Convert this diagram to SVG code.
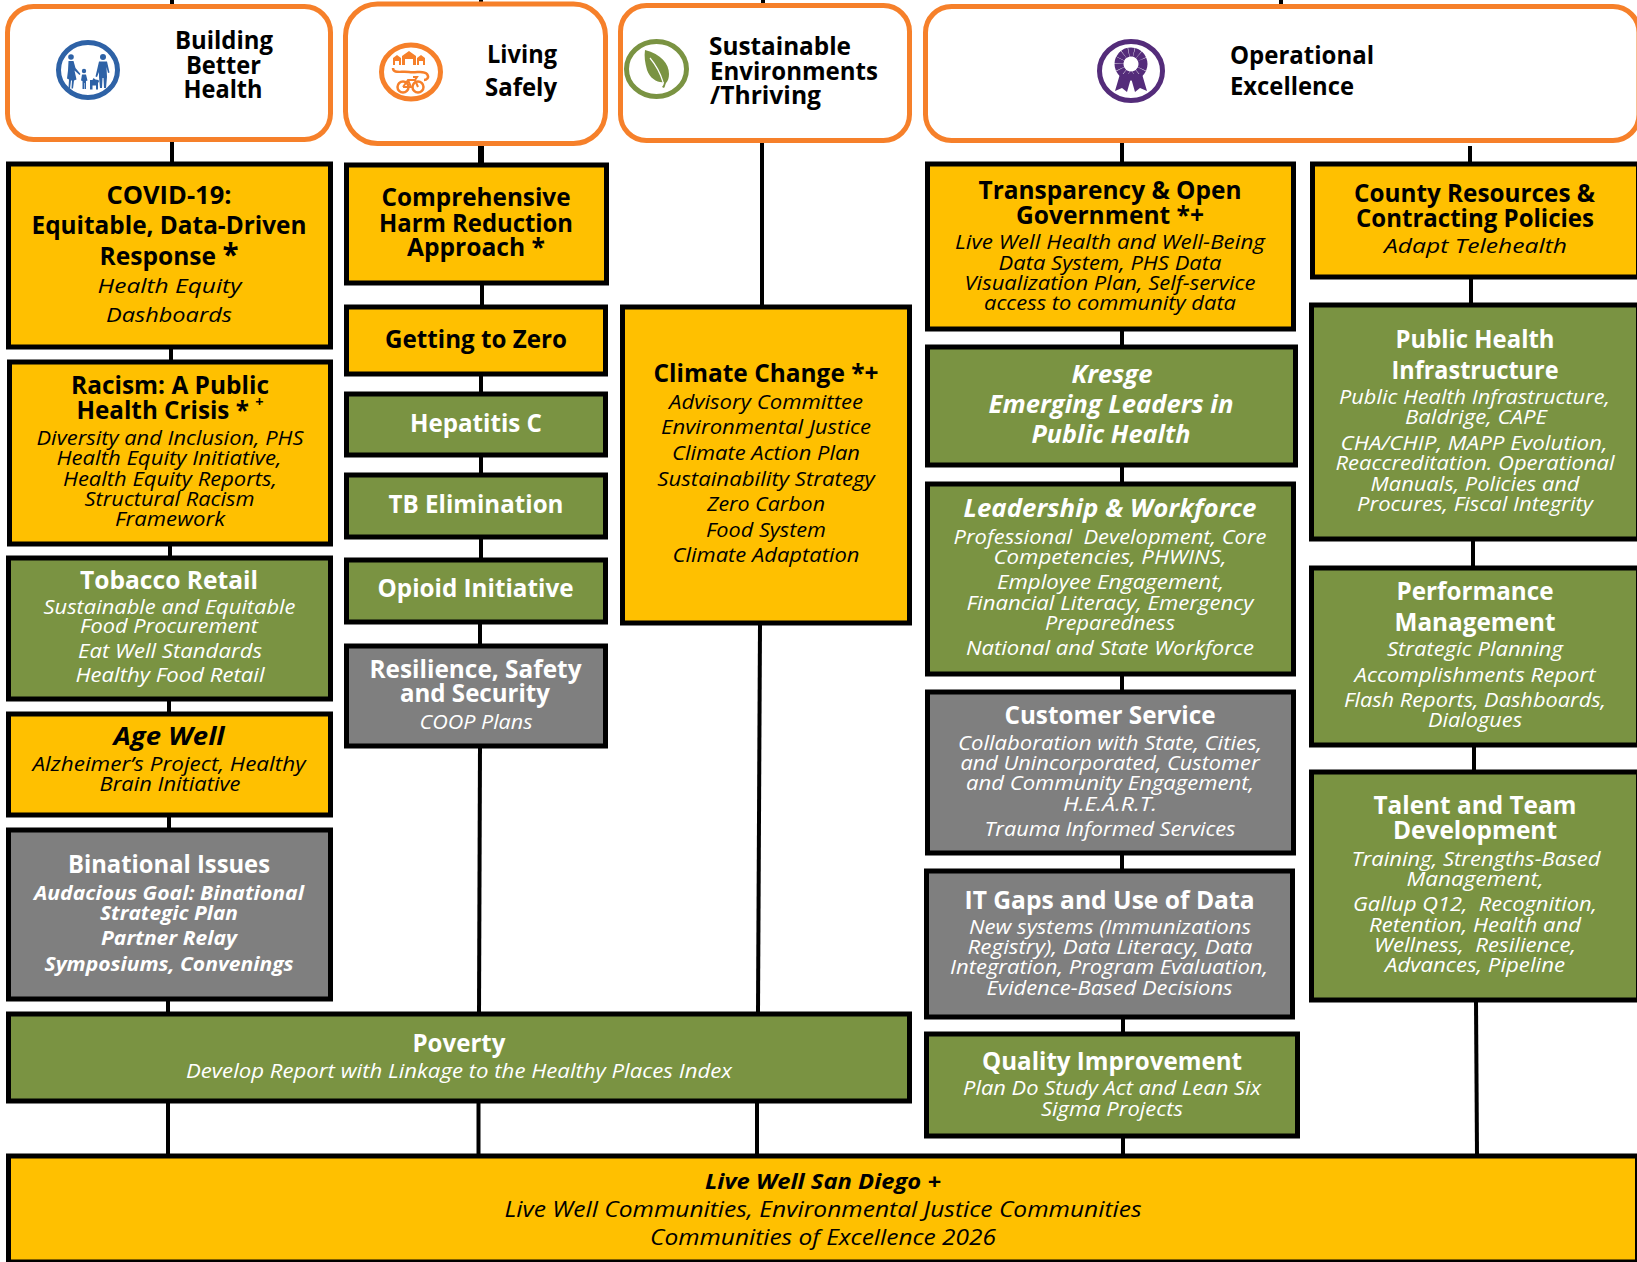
<svg xmlns="http://www.w3.org/2000/svg" width="1637" height="1262" viewBox="0 0 1637 1262">
<style>
text{font-family:"Open Sans","Noto Sans","Liberation Sans",sans-serif;text-anchor:middle;fill:#000}
.l{text-anchor:start}
.h{font-size:25px;font-weight:700}
.t{font-size:25px;font-weight:700;transform:translateY(1px)}
.s{font-size:20px;font-style:italic}
.b{font-size:20px;font-style:italic;font-weight:700}
.ti{font-size:25px;font-style:italic;font-weight:700;transform:translateY(1px)}
.w text{fill:#fff}
.n{stroke:#000;stroke-width:5;transform:translateY(.5px)}
.am{fill:#FFC000}
.gr{fill:#7A9342}
.gy{fill:#7F7F7F}
.hd{fill:#fff;stroke:#F6802A;stroke-width:5}
.c line{stroke:#000;stroke-width:4}
.pre{white-space:pre}
</style>
<rect width="1637" height="1262" fill="#fff"/>
<g id="connectors" class="c">
<line x1="172" y1="0" x2="172" y2="6"/><line x1="481" y1="0" x2="481" y2="4"/><line x1="763" y1="0" x2="763" y2="5"/><line x1="1281" y1="0" x2="1281" y2="6"/>
<line x1="172" y1="142" x2="172" y2="163"/><line x1="171" y1="347" x2="171" y2="361"/><line x1="170" y1="544" x2="170" y2="557"/><line x1="169" y1="699" x2="169" y2="713"/><line x1="169" y1="815" x2="169" y2="829"/><line x1="168" y1="999" x2="168" y2="1013"/><line x1="168" y1="1101" x2="168" y2="1155"/>
<line x1="481" y1="146" x2="481" y2="164" style="stroke-width:6"/><line x1="482" y1="283" x2="482" y2="306"/><line x1="481" y1="374" x2="481" y2="393"/><line x1="481" y1="455" x2="481" y2="474"/><line x1="481" y1="537" x2="481" y2="559"/><line x1="480" y1="622" x2="480" y2="645"/><line x1="480" y1="746" x2="479" y2="1013"/><line x1="478.500" y1="1101" x2="478.500" y2="1155"/>
<line x1="762" y1="143" x2="762" y2="306"/><line x1="760" y1="623" x2="758" y2="1013"/><line x1="757" y1="1101" x2="757" y2="1155"/>
<line x1="1122" y1="143" x2="1122" y2="163"/><line x1="1122" y1="329" x2="1122" y2="346"/><line x1="1122" y1="465" x2="1122" y2="483"/><line x1="1122" y1="674" x2="1122" y2="691"/><line x1="1122" y1="853" x2="1122" y2="870"/><line x1="1123" y1="1017" x2="1123" y2="1033"/><line x1="1123" y1="1136" x2="1123" y2="1155"/>
<line x1="1470" y1="146" x2="1470" y2="163"/><line x1="1471" y1="277" x2="1471" y2="304"/><line x1="1473" y1="539" x2="1473" y2="567"/><line x1="1474" y1="745" x2="1474" y2="771"/><line x1="1476" y1="1000" x2="1477" y2="1155"/>
</g>

<g id="header-building-better-health">
<rect class="hd" x="7.500" y="6.500" width="323" height="133" rx="26"/>
<ellipse cx="88" cy="70" rx="29.500" ry="27.500" fill="#fff" stroke="#2E62A6" stroke-width="5"/>
<g fill="#2E62A6">
<circle cx="71" cy="57" r="2.800"/><path d="M68.500 61h5l2 7 5 6-1 1-5-4.500 2 9-2.500 1-1 8h-1.500l.5-8h-1l-1 8h-1.500l.5-9-2-1 1-8z"/>
<circle cx="84" cy="71" r="2.200"/><path d="M82 74.500h4l1.500 6-1.500.5v8h-1.500v-6h-.5v6H82.500v-8l-1.500-.5z"/>
<path d="M90 80h2.500l1-2 2 1.500 3 .5 .5 1.500-1 1.500v6.500h-2v-4h-3.500v4H90z"/>
<circle cx="103" cy="57" r="3"/><path d="M99 61.500h8l2.500 11-1.500.5-1.500-6 .5 10-1 11h-2l-.5-10h-1l-.5 10h-2l-1-11v-5l-2 5-1.500-.5z"/>
</g>
<text class="h" x="224" y="49" textLength="98" lengthAdjust="spacingAndGlyphs">Building</text>
<text class="h" x="223.500" y="74" textLength="75" lengthAdjust="spacingAndGlyphs">Better</text>
<text class="h" x="223" y="98" textLength="79" lengthAdjust="spacingAndGlyphs">Health</text>
</g>

<g id="header-living-safely">
<rect class="hd" x="345.500" y="4" width="260" height="139.500" rx="32"/>
<ellipse cx="411" cy="72" rx="29.500" ry="27" fill="#fff" stroke="#F6802A" stroke-width="5"/>
<path d="M393 65v-7l4-3 4 3v7h-2v-4h-4v4zM402 65V56l7-5 7 5v9h-3v-6h-8v6zM417 65v-7l4-3 4 3v7h-2v-4h-4v4z" fill="#F6802A"/>
<g fill="none" stroke="#F6802A" stroke-width="2.500">
<path d="M393 68c0 6 8 3 16 4s15-2 18 2-1 6-3 6"/>
<circle cx="403" cy="87" r="5.500"/><circle cx="418" cy="87" r="5.500"/>
<path d="M403 87l5-7h7l3 7M408 80l3 7h-8M413 77h4l-2 3" stroke-width="2"/>
</g>
<text class="h" x="522" y="63" textLength="70" lengthAdjust="spacingAndGlyphs">Living</text>
<text class="h" x="521" y="96" textLength="72" lengthAdjust="spacingAndGlyphs">Safely</text>
</g>

<g id="header-sustainable">
<rect class="hd" x="620.500" y="5.500" width="289" height="135" rx="26"/>
<ellipse cx="656.500" cy="69" rx="30" ry="27.500" fill="#fff" stroke="#7A9342" stroke-width="5"/>
<path d="M645 50c16 4 24 14 24 24 0 4-1 7-3 9-1 2-1 4-2 5l-2-1c1-1 2-3 2-5-6 1-14-3-17-12-2-7-3-14-2-20z" fill="#7A9342"/>
<path d="M650 58c5 6 10 14 13 24" fill="none" stroke="#fff" stroke-width="1.200"/>
<text class="h l" x="709" y="55" textLength="142" lengthAdjust="spacingAndGlyphs">Sustainable</text>
<text class="h l" x="710" y="80" textLength="168" lengthAdjust="spacingAndGlyphs">Environments</text>
<text class="h l" x="710" y="104" textLength="111" lengthAdjust="spacingAndGlyphs">/Thriving</text>
</g>

<g id="header-operational">
<rect class="hd" x="925.500" y="6.500" width="713.500" height="134" rx="26"/>
<ellipse cx="1131" cy="71" rx="31.500" ry="29.500" fill="#fff" stroke="#542C7A" stroke-width="5"/>
<path d="M1120 74l-5 17 7-3 5 4 4-14 4 14 5-4 7 3-5-17z" fill="#542C7A"/>
<circle cx="1131" cy="64" r="12" fill="none" stroke="#542C7A" stroke-width="9" stroke-dasharray="5 .4"/>
<circle cx="1131" cy="64" r="6" fill="#fff"/>
<text class="h l" x="1230" y="64" textLength="144" lengthAdjust="spacingAndGlyphs">Operational</text>
<text class="h l" x="1230" y="95" textLength="124" lengthAdjust="spacingAndGlyphs">Excellence</text>
</g>

<g id="covid">
<rect class="n am" x="8.500" y="163.500" width="322" height="183"/>
<text class="t" x="169" y="203" textLength="125" lengthAdjust="spacingAndGlyphs">COVID-19:</text>
<text class="t" x="169" y="233" textLength="275" lengthAdjust="spacingAndGlyphs">Equitable, Data-Driven</text>
<text class="t" x="169" y="264" textLength="139" lengthAdjust="spacingAndGlyphs">Response <tspan font-size="30">*</tspan></text>
<text class="s" x="169.500" y="293" textLength="144" lengthAdjust="spacingAndGlyphs">Health Equity</text>
<text class="s" x="169" y="322" textLength="126" lengthAdjust="spacingAndGlyphs">Dashboards</text>
</g>
<g id="racism">
<rect class="n am" x="9.500" y="361.500" width="321" height="182"/>
<text class="t" x="170" y="393" textLength="198" lengthAdjust="spacingAndGlyphs">Racism: A Public</text>
<text class="t" x="170" y="418" textLength="187" lengthAdjust="spacingAndGlyphs">Health Crisis * <tspan font-size="15" dy="-12">+</tspan></text>
<text class="s" x="170" y="445" textLength="267" lengthAdjust="spacingAndGlyphs">Diversity and Inclusion, PHS</text>
<text class="s" x="169" y="465" textLength="225" lengthAdjust="spacingAndGlyphs">Health Equity Initiative,</text>
<text class="s" x="170" y="486" textLength="214" lengthAdjust="spacingAndGlyphs">Health Equity Reports,</text>
<text class="s" x="169.500" y="506" textLength="170" lengthAdjust="spacingAndGlyphs">Structural Racism</text>
<text class="s" x="170" y="526" textLength="110" lengthAdjust="spacingAndGlyphs">Framework</text>
</g>
<g id="tobacco" class="w">
<rect class="n gr" x="8.500" y="557.500" width="322" height="141"/>
<text class="t" x="169" y="588" textLength="178" lengthAdjust="spacingAndGlyphs">Tobacco Retail</text>
<text class="s" x="169.500" y="614" textLength="252" lengthAdjust="spacingAndGlyphs">Sustainable and Equitable</text>
<text class="s" x="169" y="633" textLength="178" lengthAdjust="spacingAndGlyphs">Food Procurement</text>
<text class="s" x="170" y="658" textLength="184" lengthAdjust="spacingAndGlyphs">Eat Well Standards</text>
<text class="s" x="170" y="682" textLength="189" lengthAdjust="spacingAndGlyphs">Healthy Food Retail</text>
</g>
<g id="age-well">
<rect class="n am" x="8.500" y="713.500" width="322" height="101"/>
<text class="ti" x="169" y="744" textLength="111" lengthAdjust="spacingAndGlyphs">Age Well</text>
<text class="s" x="169" y="771" textLength="273" lengthAdjust="spacingAndGlyphs">Alzheimer’s Project, Healthy</text>
<text class="s" x="170" y="791" textLength="141" lengthAdjust="spacingAndGlyphs">Brain Initiative</text>
</g>
<g id="binational" class="w">
<rect class="n gy" x="8.500" y="829.500" width="322" height="169"/>
<text class="t" x="169" y="872" textLength="202" lengthAdjust="spacingAndGlyphs">Binational Issues</text>
<text class="b" x="169" y="900" textLength="270" lengthAdjust="spacingAndGlyphs">Audacious Goal: Binational</text>
<text class="b" x="169" y="920" textLength="138" lengthAdjust="spacingAndGlyphs">Strategic Plan</text>
<text class="b" x="169" y="945" textLength="136" lengthAdjust="spacingAndGlyphs">Partner Relay</text>
<text class="b" x="169" y="971" textLength="249" lengthAdjust="spacingAndGlyphs">Symposiums, Convenings</text>
</g>
<g id="poverty" class="w">
<rect class="n gr" x="8.500" y="1013.500" width="901" height="87"/>
<text class="t" x="459" y="1051" textLength="93" lengthAdjust="spacingAndGlyphs">Poverty</text>
<text class="s" x="459" y="1078" textLength="546" lengthAdjust="spacingAndGlyphs">Develop Report with Linkage to the Healthy Places Index</text>
</g>
<g id="live-well-san-diego">
<rect class="n am" x="8.500" y="1155.500" width="1629" height="106"/>
<text class="ti" style="font-size:22px" x="823" y="1188" textLength="236" lengthAdjust="spacingAndGlyphs">Live Well San Diego +</text>
<text class="s" style="font-size:22px" x="823" y="1217" textLength="637" lengthAdjust="spacingAndGlyphs">Live Well Communities, Environmental Justice Communities</text>
<text class="s" style="font-size:22px" x="823" y="1245" textLength="346" lengthAdjust="spacingAndGlyphs">Communities of Excellence 2026</text>
</g>

<g id="harm-reduction">
<rect class="n am" x="346.500" y="164.500" width="260" height="118"/>
<text class="t" x="476" y="205" textLength="189" lengthAdjust="spacingAndGlyphs">Comprehensive</text>
<text class="t" x="476" y="231" textLength="194" lengthAdjust="spacingAndGlyphs">Harm Reduction</text>
<text class="t" x="476" y="255" textLength="138" lengthAdjust="spacingAndGlyphs">Approach *</text>
</g>
<g id="getting-to-zero">
<rect class="n am" x="346.500" y="306.500" width="259" height="67"/>
<text class="t" x="476" y="347" textLength="182" lengthAdjust="spacingAndGlyphs">Getting to Zero</text>
</g>
<g id="hepatitis-c" class="w">
<rect class="n gr" x="346.500" y="393.500" width="259" height="61"/>
<text class="t" x="476" y="431" textLength="132" lengthAdjust="spacingAndGlyphs">Hepatitis C</text>
</g>
<g id="tb-elimination" class="w">
<rect class="n gr" x="346.500" y="474.500" width="259" height="62"/>
<text class="t" x="476" y="512" textLength="175" lengthAdjust="spacingAndGlyphs">TB Elimination</text>
</g>
<g id="opioid" class="w">
<rect class="n gr" x="346.500" y="559.500" width="259" height="62"/>
<text class="t" x="475.500" y="596" textLength="196" lengthAdjust="spacingAndGlyphs">Opioid Initiative</text>
</g>
<g id="resilience" class="w">
<rect class="n gy" x="346.500" y="645.500" width="259" height="100"/>
<text class="t" x="475.500" y="677" textLength="212" lengthAdjust="spacingAndGlyphs">Resilience, Safety</text>
<text class="t" x="475" y="701" textLength="150" lengthAdjust="spacingAndGlyphs">and Security</text>
<text class="s" x="476" y="729" textLength="113" lengthAdjust="spacingAndGlyphs">COOP Plans</text>
</g>

<g id="climate-change">
<rect class="n am" x="622.500" y="306.500" width="287" height="316"/>
<text class="t" x="766" y="381" textLength="225" lengthAdjust="spacingAndGlyphs">Climate Change *+</text>
<text class="s" x="766" y="409" textLength="194" lengthAdjust="spacingAndGlyphs">Advisory Committee</text>
<text class="s" x="766" y="434" textLength="210" lengthAdjust="spacingAndGlyphs">Environmental Justice</text>
<text class="s" x="766" y="460" textLength="188" lengthAdjust="spacingAndGlyphs">Climate Action Plan</text>
<text class="s" x="766" y="486" textLength="217.500" lengthAdjust="spacingAndGlyphs">Sustainability Strategy</text>
<text class="s" x="766" y="511" textLength="118" lengthAdjust="spacingAndGlyphs">Zero Carbon</text>
<text class="s" x="766" y="537" textLength="120" lengthAdjust="spacingAndGlyphs">Food System</text>
<text class="s" x="766" y="562" textLength="187" lengthAdjust="spacingAndGlyphs">Climate Adaptation</text>
</g>

<g id="transparency">
<rect class="n am" x="927.500" y="163.500" width="366" height="165"/>
<text class="t" x="1110" y="198" textLength="263" lengthAdjust="spacingAndGlyphs">Transparency &amp; Open</text>
<text class="t" x="1110" y="223" textLength="188" lengthAdjust="spacingAndGlyphs">Government *+</text>
<text class="s" x="1110" y="249" textLength="310" lengthAdjust="spacingAndGlyphs">Live Well Health and Well-Being</text>
<text class="s" x="1110" y="270" textLength="223" lengthAdjust="spacingAndGlyphs">Data System, PHS Data</text>
<text class="s" x="1110" y="290" textLength="291" lengthAdjust="spacingAndGlyphs">Visualization Plan, Self-service</text>
<text class="s" x="1110" y="310" textLength="252" lengthAdjust="spacingAndGlyphs">access to community data</text>
</g>
<g id="kresge" class="w">
<rect class="n gr" x="927.500" y="346.500" width="368" height="118"/>
<text class="ti" x="1112" y="382" textLength="81" lengthAdjust="spacingAndGlyphs">Kresge</text>
<text class="ti" x="1111" y="412" textLength="245" lengthAdjust="spacingAndGlyphs">Emerging Leaders in</text>
<text class="ti" x="1111" y="442" textLength="159" lengthAdjust="spacingAndGlyphs">Public Health</text>
</g>
<g id="leadership" class="w">
<rect class="n gr" x="927.500" y="483.500" width="366" height="190"/>
<text class="ti" x="1110" y="516" textLength="293" lengthAdjust="spacingAndGlyphs">Leadership &amp; Workforce</text>
<text class="s pre" x="1110" y="544" textLength="313" lengthAdjust="spacingAndGlyphs">Professional  Development, Core</text>
<text class="s" x="1110" y="564" textLength="233" lengthAdjust="spacingAndGlyphs">Competencies, PHWINS,</text>
<text class="s" x="1110.500" y="589" textLength="227" lengthAdjust="spacingAndGlyphs">Employee Engagement,</text>
<text class="s" x="1110" y="610" textLength="287" lengthAdjust="spacingAndGlyphs">Financial Literacy, Emergency</text>
<text class="s" x="1110" y="630" textLength="130" lengthAdjust="spacingAndGlyphs">Preparedness</text>
<text class="s" x="1110" y="655" textLength="288" lengthAdjust="spacingAndGlyphs">National and State Workforce</text>
</g>
<g id="customer-service" class="w">
<rect class="n gy" x="927.500" y="691.500" width="366" height="161"/>
<text class="t" x="1110" y="723" textLength="211" lengthAdjust="spacingAndGlyphs">Customer Service</text>
<text class="s" x="1110" y="750" textLength="304" lengthAdjust="spacingAndGlyphs">Collaboration with State, Cities,</text>
<text class="s" x="1110" y="770" textLength="299" lengthAdjust="spacingAndGlyphs">and Unincorporated, Customer</text>
<text class="s" x="1110" y="790" textLength="288" lengthAdjust="spacingAndGlyphs">and Community Engagement,</text>
<text class="s" x="1110" y="811" textLength="94" lengthAdjust="spacingAndGlyphs">H.E.A.R.T.</text>
<text class="s" x="1110" y="836" textLength="251" lengthAdjust="spacingAndGlyphs">Trauma Informed Services</text>
</g>
<g id="it-gaps" class="w">
<rect class="n gy" x="926.500" y="870.500" width="366" height="146"/>
<text class="t" x="1109.500" y="908" textLength="290" lengthAdjust="spacingAndGlyphs">IT Gaps and Use of Data</text>
<text class="s" x="1110" y="934" textLength="282" lengthAdjust="spacingAndGlyphs">New systems (Immunizations</text>
<text class="s" x="1110" y="954" textLength="285" lengthAdjust="spacingAndGlyphs">Registry), Data Literacy, Data</text>
<text class="s" x="1109" y="974" textLength="318" lengthAdjust="spacingAndGlyphs">Integration, Program Evaluation,</text>
<text class="s" x="1109.500" y="995" textLength="246" lengthAdjust="spacingAndGlyphs">Evidence-Based Decisions</text>
</g>
<g id="quality-improvement" class="w">
<rect class="n gr" x="926.500" y="1033.500" width="371" height="102"/>
<text class="t" x="1112" y="1069" textLength="260" lengthAdjust="spacingAndGlyphs">Quality Improvement</text>
<text class="s" x="1112" y="1095" textLength="298" lengthAdjust="spacingAndGlyphs">Plan Do Study Act and Lean Six</text>
<text class="s" x="1112" y="1116" textLength="142" lengthAdjust="spacingAndGlyphs">Sigma Projects</text>
</g>

<g id="county-resources">
<rect class="n am" x="1312.500" y="163.500" width="326" height="113"/>
<text class="t" x="1474.500" y="201" textLength="241" lengthAdjust="spacingAndGlyphs">County Resources &amp;</text>
<text class="t" x="1475" y="226" textLength="238" lengthAdjust="spacingAndGlyphs">Contracting Policies</text>
<text class="s" x="1475.500" y="253" textLength="183" lengthAdjust="spacingAndGlyphs">Adapt Telehealth</text>
</g>
<g id="public-health-infrastructure" class="w">
<rect class="n gr" x="1311.500" y="304.500" width="327" height="234"/>
<text class="t" x="1475" y="347" textLength="159" lengthAdjust="spacingAndGlyphs">Public Health</text>
<text class="t" x="1475" y="378" textLength="167" lengthAdjust="spacingAndGlyphs">Infrastructure</text>
<text class="s" x="1474.500" y="404" textLength="271" lengthAdjust="spacingAndGlyphs">Public Health Infrastructure,</text>
<text class="s" x="1476" y="424" textLength="142" lengthAdjust="spacingAndGlyphs">Baldrige, CAPE</text>
<text class="s" x="1474" y="450" textLength="267" lengthAdjust="spacingAndGlyphs">CHA/CHIP, MAPP Evolution,</text>
<text class="s" x="1475" y="470" textLength="279" lengthAdjust="spacingAndGlyphs">Reaccreditation. Operational</text>
<text class="s" x="1475" y="491" textLength="209" lengthAdjust="spacingAndGlyphs">Manuals, Policies and</text>
<text class="s" x="1475" y="511" textLength="236" lengthAdjust="spacingAndGlyphs">Procures, Fiscal Integrity</text>
</g>
<g id="performance-management" class="w">
<rect class="n gr" x="1311.500" y="567.500" width="327" height="177"/>
<text class="t" x="1475" y="599" textLength="157" lengthAdjust="spacingAndGlyphs">Performance</text>
<text class="t" x="1475" y="630" textLength="161" lengthAdjust="spacingAndGlyphs">Management</text>
<text class="s" x="1475" y="656" textLength="176" lengthAdjust="spacingAndGlyphs">Strategic Planning</text>
<text class="s" x="1475" y="682" textLength="241" lengthAdjust="spacingAndGlyphs">Accomplishments Report</text>
<text class="s" x="1475" y="707" textLength="262" lengthAdjust="spacingAndGlyphs">Flash Reports, Dashboards,</text>
<text class="s" x="1475" y="727" textLength="94" lengthAdjust="spacingAndGlyphs">Dialogues</text>
</g>
<g id="talent-team" class="w">
<rect class="n gr" x="1311.500" y="771.500" width="327" height="228"/>
<text class="t" x="1475" y="813" textLength="203" lengthAdjust="spacingAndGlyphs">Talent and Team</text>
<text class="t" x="1475" y="838" textLength="164" lengthAdjust="spacingAndGlyphs">Development</text>
<text class="s" x="1476" y="866" textLength="249" lengthAdjust="spacingAndGlyphs">Training, Strengths-Based</text>
<text class="s" x="1475" y="886" textLength="137" lengthAdjust="spacingAndGlyphs">Management,</text>
<text class="s pre" x="1475" y="911" textLength="244" lengthAdjust="spacingAndGlyphs">Gallup Q12,  Recognition,</text>
<text class="s" x="1475" y="932" textLength="212" lengthAdjust="spacingAndGlyphs">Retention, Health and</text>
<text class="s pre" x="1475" y="952" textLength="202" lengthAdjust="spacingAndGlyphs">Wellness,  Resilience,</text>
<text class="s" x="1475" y="972" textLength="180" lengthAdjust="spacingAndGlyphs">Advances, Pipeline</text>
</g>
</svg>
